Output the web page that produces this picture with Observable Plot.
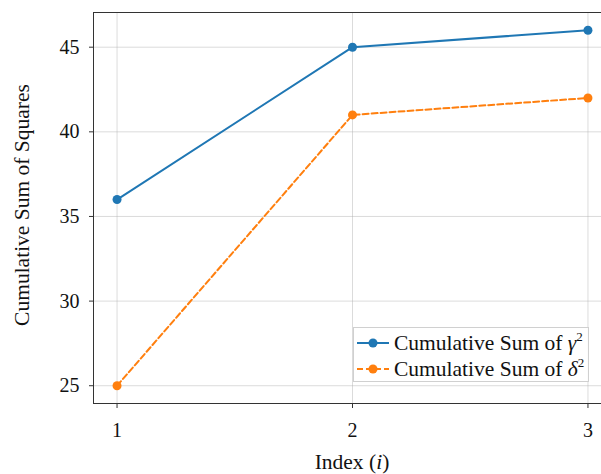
<!DOCTYPE html>
<html>
<head>
<meta charset="utf-8">
<script src="https://cdn.jsdelivr.net/npm/d3@7"></script>
<script src="https://cdn.jsdelivr.net/npm/@observablehq/plot@0.6"></script>
<style>
  html, body { margin: 0; padding: 0; background: #fff; overflow: hidden; }
  #wrap { position: relative; width: 601px; height: 474px; overflow: hidden; }
  #wrap svg.main { max-width: none !important; }
  #wrap svg.main text { font-family: 'Liberation Serif', serif; }
  #legend { position: absolute; left: 353px; top: 327px; width: 236px; height: 55px;
    border: 1px solid #d0d0d0; background: rgba(255,255,255,0.85);
    font-family: 'Liberation Serif', serif; font-size: 21.5px; color: #111; box-sizing: border-box; }
  .row { position: absolute; left: 0; height: 24px; display: flex; align-items: center; white-space: nowrap; }
  .row svg { margin-left: 3px; margin-right: 5px; flex: none; }
  sup { font-size: 13px; vertical-align: 9px; line-height: 0; }
</style>
</head>
<body>
<div id="wrap"></div>
<script>
const idx = [1, 2, 3];
const gammaSum = [36, 45, 46];
const deltaSum = [25, 41, 42];
const yTicks = [25, 30, 35, 40, 45];
const xTicks = [1, 2, 3];
const seriesNames = ["Cumulative Sum of γ²", "Cumulative Sum of δ²"];

const gData = idx.map((x, i) => ({x, y: gammaSum[i]}));
const dData = idx.map((x, i) => ({x, y: deltaSum[i]}));

const blue = "#1f77b4", orange = "#ff7f0e";
const fmt = d3.format("d");
const SERIF = "'Liberation Serif', serif";

const chart = Plot.plot({
  width: 612,
  height: 474,
  marginLeft: 93,
  marginRight: 1,
  marginTop: 12,
  marginBottom: 71,
  style: { fontSize: "20px", fontFamily: SERIF, color: "#222", background: "#fff" },
  x: { domain: [0.9, 3.1], label: null },
  y: { domain: [23.95, 47.05], label: null },
  marks: [
    Plot.gridX(xTicks, { stroke: "#b0b0b0", strokeOpacity: 0.45, strokeWidth: 1 }),
    Plot.gridY(yTicks, { stroke: "#b0b0b0", strokeOpacity: 0.45, strokeWidth: 1 }),
    Plot.axisX(xTicks, { tickSize: 5, tickPadding: 14, tickFormat: fmt, fontSize: 20, fontFamily: SERIF, stroke: "#333", fill: "#111", label: null }),
    Plot.axisY(yTicks, { tickSize: 4, tickPadding: 10, tickFormat: fmt, fontSize: 20, fontFamily: SERIF, stroke: "#333", fill: "#111", label: null }),
    Plot.line(gData, { x: "x", y: "y", stroke: blue, strokeWidth: 2 }),
    Plot.dot(gData, { x: "x", y: "y", fill: blue, r: 4.5 }),
    Plot.line(dData, { x: "x", y: "y", stroke: orange, strokeWidth: 2, strokeDasharray: "6,3" }),
    Plot.dot(dData, { x: "x", y: "y", fill: orange, r: 4.5 }),
    Plot.frame({ stroke: "#333", strokeWidth: 1 })
  ]
});
chart.classList.add("main");
chart.style.maxWidth = "none";

const svg = d3.select(chart);
svg.append("text")
  .attr("x", 352).attr("y", 469)
  .attr("text-anchor", "middle")
  .attr("font-size", 21.5).attr("fill", "#111")
  .call(t => { t.append("tspan").text("Index ("); t.append("tspan").attr("font-style", "italic").text("i"); t.append("tspan").text(")"); });
svg.append("text")
  .attr("transform", "translate(29,205) rotate(-90)")
  .attr("text-anchor", "middle")
  .attr("font-size", 21.5).attr("fill", "#111")
  .text("Cumulative Sum of Squares");

const wrap = document.getElementById("wrap");
wrap.appendChild(chart);

const legend = document.createElement("div");
legend.id = "legend";
const rows = [
  { color: blue, dash: null, sym: "γ", top: 3 },
  { color: orange, dash: "6,3", sym: "δ", top: 29 }
];
rows.forEach((r, i) => {
  const row = document.createElement("div");
  row.className = "row";
  row.style.top = r.top + "px";
  row.innerHTML = `<svg width="32" height="12"><line x1="0" x2="32" y1="6" y2="6" stroke="${r.color}" stroke-width="2" ${r.dash ? `stroke-dasharray="${r.dash}"` : ""}/><circle cx="16" cy="6" r="4.5" fill="${r.color}"/></svg><span>Cumulative Sum of <i>${r.sym}</i><sup>2</sup></span>`;
  row.title = seriesNames[i];
  legend.appendChild(row);
});
wrap.appendChild(legend);
</script>
</body>
</html>
